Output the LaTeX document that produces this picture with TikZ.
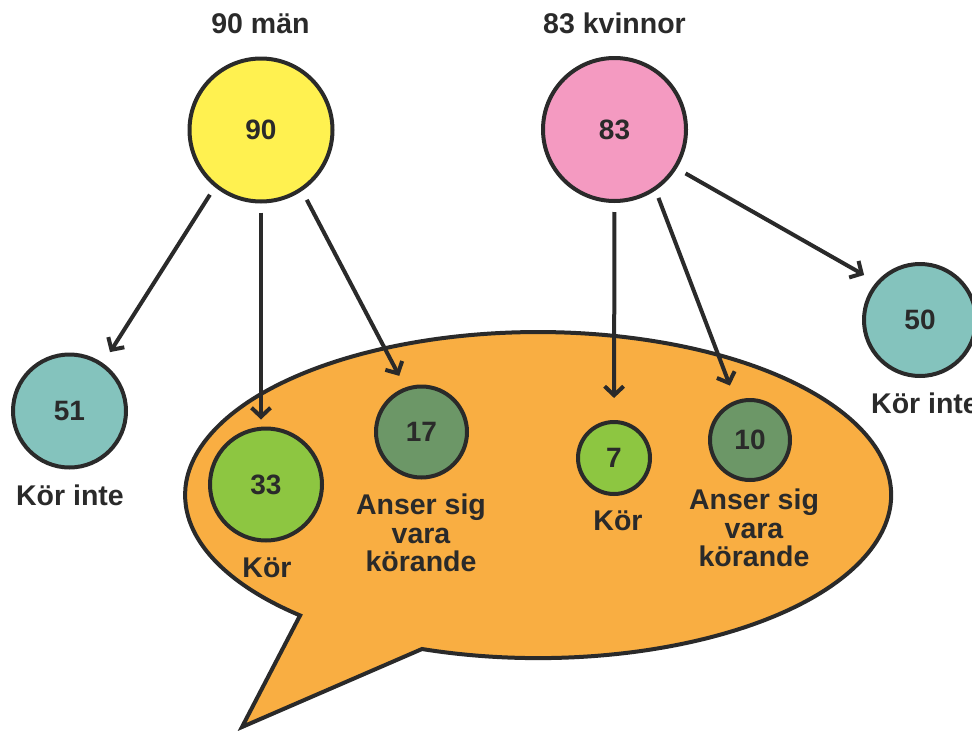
\documentclass[tikz,border=0pt]{standalone}
\usepackage{fontspec}
\setmainfont{Liberation Sans}
\usetikzlibrary{arrows.meta}
\definecolor{ink}{HTML}{2A2A2A}
\definecolor{cyellow}{HTML}{FFF150}
\definecolor{cpink}{HTML}{F49AC1}
\definecolor{cteal}{HTML}{84C3BD}
\definecolor{clgreen}{HTML}{8DC641}
\definecolor{cdgreen}{HTML}{6C9767}
\definecolor{corange}{HTML}{F9AE42}
\begin{document}
\begin{tikzpicture}[x=1pt,y=-1pt,
  every node/.style={text=ink,font=\bfseries\fontsize{28.5}{28.5}\selectfont},
  bub/.style={circle,draw=ink,line width=4pt,inner sep=0pt,font=\bfseries\fontsize{28}{28}\selectfont},
  lab/.style={anchor=base,inner sep=0pt},
  mlab/.style={anchor=north,inner sep=0pt,align=center},
  arr/.style={draw=ink,line width=4pt,-{Straight Barb[length=9pt,width=19pt]}}]
\useasboundingbox (0,0) rectangle (972,731);
% speech bubble
\draw[fill=corange,draw=ink,line width=4pt,line join=miter]
  (422,649) arc[start angle=250.8,end angle=587.6,x radius=353pt,y radius=163pt]
  -- (242,727) -- cycle;
% circles
\node[bub,fill=cyellow,minimum size=143pt] (m90) at (261,130) {90};
\node[bub,fill=cpink,minimum size=143pt] (w83) at (614.5,129.5) {83};
\node[bub,fill=cteal,minimum size=113pt] (k51) at (69.5,411) {51};
\node[bub,fill=cteal,minimum size=112pt] (k50) at (920,320) {50};
\node[bub,fill=clgreen,minimum size=112pt] (k33) at (266,484.5) {33};
\node[bub,fill=cdgreen,minimum size=91pt] (a17) at (421.5,432) {17};
\node[bub,fill=clgreen,minimum size=72pt] (k7) at (614,458) {7};
\node[bub,fill=cdgreen,minimum size=80pt] (a10) at (750,440) {10};
% labels
\node[lab] (t90) at (260.5,33) {90 män};
\node[lab] (t83) at (614.5,33) {83 kvinnor};
\node[lab] (l51) at (70,505) {Kör inte};
\node[lab] (l50) at (925,413) {Kör inte};
\node[lab] (l33) at (267,577) {Kör};
\node[lab] (l7) at (618,530) {Kör};
\node[mlab] (l17) at (421,494) {Anser sig\\vara\\körande};
\node[mlab] (l10) at (754,489) {Anser sig\\vara\\körande};
% arrows
\draw[arr,shorten <=9pt,shorten >=13pt] (m90.231) -- (k51.55);
\draw[arr,shorten <=9pt,shorten >=7pt] (m90.south) -- (m90.south |- k33.north);
\draw[arr,shorten <=10pt,shorten >=13pt] (m90.304) -- (a17.110);
\draw[arr,shorten <=9pt,shorten >=22pt] (w83.south) -- (k7.north);
\draw[arr,shorten <=8pt,shorten >=16pt] (w83.304.5) -- (a10.110);
\draw[arr,shorten <=10pt,shorten >=14pt] (w83.328.5) -- (k50.139.5);
\end{tikzpicture}
\end{document}
